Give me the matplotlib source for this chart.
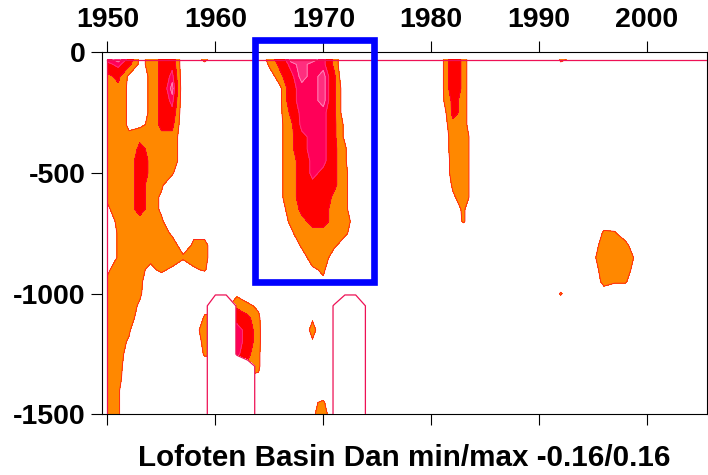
import numpy as np
import matplotlib
matplotlib.use("Agg")
import matplotlib.pyplot as plt
from matplotlib.patches import Rectangle

plt.rcParams["font.family"] = ["Liberation Sans", "DejaVu Sans"]
plt.rcParams["font.weight"] = "bold"
plt.rcParams["axes.unicode_minus"] = False

# grid: one column per year, one row per depth level (m)
years = np.arange(1950, 2006)
depths = np.array([30] + list(range(50, 1501, 50)))

# Dan anomaly, one digit per year in units of 0.016 (decades grouped)
dan_rows = [
    "8973467205" "0000056999" "8510000000" "0375000000" "0043000000" "000000",  # 30
    "7863467202" "0000046898" "8510000000" "0375000000" "0030000000" "000000",  # 50
    "5632468200" "0000025798" "9610000000" "0375000000" "0000000000" "000000",  # 100
    "5532469200" "0000013788" "9620000000" "0375000000" "0000000000" "000000",  # 150
    "5532468200" "0000003788" "9620000000" "0365000000" "0000000000" "000000",  # 200
    "5532467200" "0000003688" "8620000000" "0265000000" "0000000000" "000000",  # 250
    "5533466200" "0000003588" "8630000000" "0255000000" "0000000000" "000000",  # 300
    "5545555200" "0000003578" "8630000000" "0155200000" "0000000000" "000000",  # 350
    "5546555200" "0000003578" "8640000000" "0155200000" "0000000000" "000000",  # 400
    "5547555200" "0000003568" "8640000000" "0055200000" "0000000000" "000000",  # 450
    "5547554000" "0000003568" "7642000000" "0055200000" "0000000000" "000000",  # 500
    "5556541000" "0000003567" "7642000000" "0045200000" "0000000000" "000000",  # 550
    "4556530000" "0000003567" "7542000000" "0035200000" "0000000000" "000000",  # 600
    "3556530000" "0000003466" "6542000000" "0024000000" "0000000000" "000000",  # 650
    "0555541000" "0000002456" "6543000000" "0014000000" "0000002100" "000000",  # 700
    "0455553032" "0000001355" "5542000000" "0000000000" "0000014410" "000000",  # 750
    "0455555245" "0000000145" "5420000000" "0000000000" "0000025550" "000000",  # 800
    "0455455455" "0000000025" "5200000000" "0000000000" "0000035553" "000000",  # 850
    "3554343134" "0000000013" "4100000000" "0000000000" "0000025552" "000000",  # 900
    "4554220000" "0000000002" "3000000000" "0000000000" "0000005440" "000000",  # 950
    "5554100000" "0232000000" "0000000000" "0000000000" "0040001000" "000000",  # 1000
    "5553000002" "2354300000" "0000000000" "0000000000" "0000000000" "000000",  # 1050
    "5552000004" "5776400003" "0000000000" "0000000000" "0000000000" "000000",  # 1100
    "5540000025" "5887410005" "0000000000" "0000000000" "0000000000" "000000",  # 1150
    "5530000005" "5887410003" "0000000000" "0000000000" "0000000000" "000000",  # 1200
    "5520000004" "4886400000" "0000000000" "0000000000" "0000000000" "000000",  # 1250
    "5510000001" "1665400000" "0000000000" "0000000000" "0000000000" "000000",  # 1300
    "5500000000" "0003300000" "0000000000" "0000000000" "0000000000" "000000",  # 1350
    "5400000000" "0000000000" "1000000000" "0000000000" "0000000000" "000000",  # 1400
    "5400000000" "0000000003" "4000000000" "0000000000" "0000000000" "000000",  # 1450
    "5400000000" "0000000003" "5100000000" "0000000000" "0000000000" "000000",  # 1500
]

# missing data below 1000 m (9 = no data), same column layout
gap_rows = [
    "0000000000" "4400000000" "0044000000" "0000000000" "0000000000" "000000",  # 1000
    "0000000003" "9940000000" "0599400000" "0000000000" "0000000000" "000000",  # 1050
    "0000000003" "9940000000" "0599400000" "0000000000" "0000000000" "000000",  # 1100
    "0000000003" "9940000000" "0599400000" "0000000000" "0000000000" "000000",  # 1150
    "0000000003" "9940000000" "0599400000" "0000000000" "0000000000" "000000",  # 1200
    "0000000003" "9940000000" "0599400000" "0000000000" "0000000000" "000000",  # 1250
    "0000000003" "9999200000" "0599400000" "0000000000" "0000000000" "000000",  # 1300
    "0000000003" "9999200000" "0599400000" "0000000000" "0000000000" "000000",  # 1350
    "0000000003" "9999200000" "0599400000" "0000000000" "0000000000" "000000",  # 1400
    "0000000003" "9999200000" "0599400000" "0000000000" "0000000000" "000000",  # 1450
    "0000000003" "9999200000" "0599400000" "0000000000" "0000000000" "000000",  # 1500
]

levels = [0.056, 0.088, 0.120, 0.136, 0.170]
fill_colors = ["#ff8800", "#ff0000", "#ff0058", "#ff2e7e"]
line_colors = ["#ff1a1a", "#ff0030", "#ff3a7a", "#ff8cbc"]
edge_color = "#ee1155"

# highlighted period
box_years = (1963.7, 1974.7)
box_depths = (-953, 51)

dan = np.array([[int(ch) for ch in row] for row in dan_rows]) * 0.016
gap = np.zeros_like(dan)
gap[-len(gap_rows):] = [[int(ch) for ch in row] for row in gap_rows]

fig = plt.figure(figsize=(7.08, 4.75), dpi=100)
ax = fig.add_axes([0.1445, 0.1274, 0.8534, 0.7625])

X, Y = np.meshgrid(years, -depths)
ax.contourf(X, Y, dan, levels=levels, colors=fill_colors, zorder=1)
ax.contour(X, Y, dan, levels=levels[:-1], colors=line_colors,
           linewidths=0.6, zorder=2)
ax.contourf(X, Y, gap, levels=[4.5, 10], colors="white", zorder=3)
ax.contour(X, Y, gap, levels=[4.5], colors=edge_color, linewidths=0.9, zorder=4)

x0, x1 = 1949.52, 2005.51
# outline of the data domain (first year, shallowest level)
ax.plot([years[0], years[0]], [-depths[0], -depths[-1]], color=edge_color,
        lw=0.9, zorder=4)
ax.plot([years[0], x1], [-depths[0], -depths[0]], color=edge_color,
        lw=0.9, zorder=4)

ax.add_patch(Rectangle((box_years[0], box_depths[0]),
                       box_years[1] - box_years[0],
                       box_depths[1] - box_depths[0],
                       fill=False, ec="#0000ff", lw=4.8, clip_on=False,
                       zorder=6))

ax.set_xlim(x0, x1)
ax.set_ylim(-1500, 0)
ax.set_xticks([1950, 1960, 1970, 1980, 1990, 2000])
ax.set_yticks([0, -500, -1000, -1500])
ax.tick_params(axis="x", top=True, bottom=True, labeltop=True,
               labelbottom=False, direction="out", length=7.6, width=0.8,
               pad=6.5, labelsize=20.5)
ax.tick_params(axis="y", left=True, right=False, direction="out",
               length=7.6, width=0.8, pad=4.5, labelsize=20.5)
for lab in ax.get_xticklabels() + ax.get_yticklabels():
    lab.set_fontweight("bold")
for sp in ax.spines.values():
    sp.set_linewidth(0.8)

fig.text(0.5707, 0.036, "Lofoten Basin Dan min/max -0.16/0.16",
         ha="center", va="center", fontsize=21.3, fontweight="bold")

fig.savefig("out.png", dpi=100, facecolor="white")
